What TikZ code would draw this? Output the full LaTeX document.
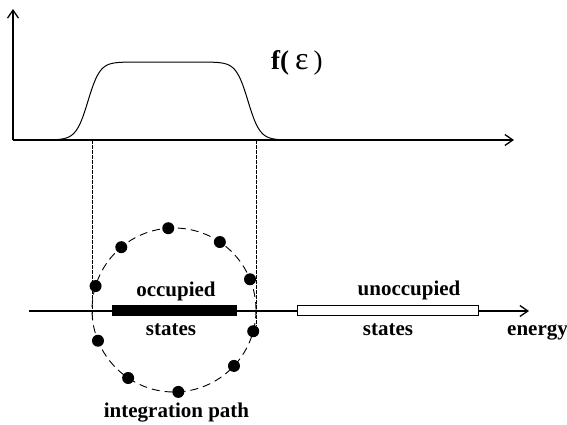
\documentclass[tikz,border=0pt]{standalone}
\usepackage{fontspec}
\setmainfont{Liberation Serif}
\usetikzlibrary{arrows.meta}
\begin{document}
\begin{tikzpicture}[x=1pt,y=-1pt,
  axis/.style={line width=1.3pt, -{Straight Barb[length=8pt,width=11pt,line width=1.3pt]}},
  lbl/.style={font=\fontsize{21}{25}\selectfont\bfseries, inner sep=0pt, anchor=base},
  guide/.style={line width=0.9pt, dash pattern=on 4pt off 1pt},
  ringstyle/.style={circle, draw, line width=0.9pt, dash pattern=on 8pt off 5pt,
                    minimum size=164pt, inner sep=0pt, outer sep=0pt},
  dot/.style={circle, fill=black, inner sep=0pt, minimum size=12pt},
  band/.style={draw, line width=1pt, inner sep=0pt, minimum height=10pt}]
\useasboundingbox (0,0) rectangle (567,424);

% occupation function f(eps)
\coordinate (O) at (13,140);
\coordinate (Ytop) at (13,9);
\coordinate (Xend) at (514,140);
\draw[axis] (O) -- (Ytop);
\draw[axis] (O) -- (Xend);
\draw[line width=1pt] plot[domain=45:290, samples=240, smooth]
  (\x, {140-78/((1+exp((88-\x)/6))*(1+exp((\x-248)/6)))});
\node[inner sep=0pt, anchor=base west] (flabel) at (271,69)
  {\fontsize{27}{31}\selectfont\bfseries f(\kern 6pt{\mdseries\fontsize{32}{36}\selectfont ε}\kern 5pt{\mdseries )}};

% guide lines down to the energy axis
\coordinate (g1t) at (92,140);
\coordinate (g1b) at (92,318);
\coordinate (g2t) at (256,140);
\coordinate (g2b) at (256,326);
\draw[guide] (g1t) -- (g1b);
\draw[guide] (g2t) -- (g2b);

% energy axis with the bands
\coordinate (A0) at (29,311);
\coordinate (A1) at (529,311);
\draw[axis] (A0) -- (A1);
\node[band, fill=black, minimum width=124pt] (occ) at (174,310.5) {};
\node[band, fill=white, minimum width=181pt] (unocc) at (387.5,310) {};

% integration contour with its points
\node[ringstyle] (ring) at (174,310) {};
\foreach \a [count=\i] in {94,56,22,-15,-43,-87,-124,-158,163,130}
  \node[dot] (d\i) at (ring.\a) {};

% labels
\node[lbl] (occtxt) at (176,296) {occupied};
\node[lbl] (occst) at (171,335) {states};
\node[lbl] (unocctxt) at (409,295) {unoccupied};
\node[lbl] (unoccst) at (388,335) {states};
\node[lbl, anchor=base west] (entxt) at (507,335) {energy};
\node[lbl] (pathtxt) at (176.5,417) {integration path};
\end{tikzpicture}
\end{document}
